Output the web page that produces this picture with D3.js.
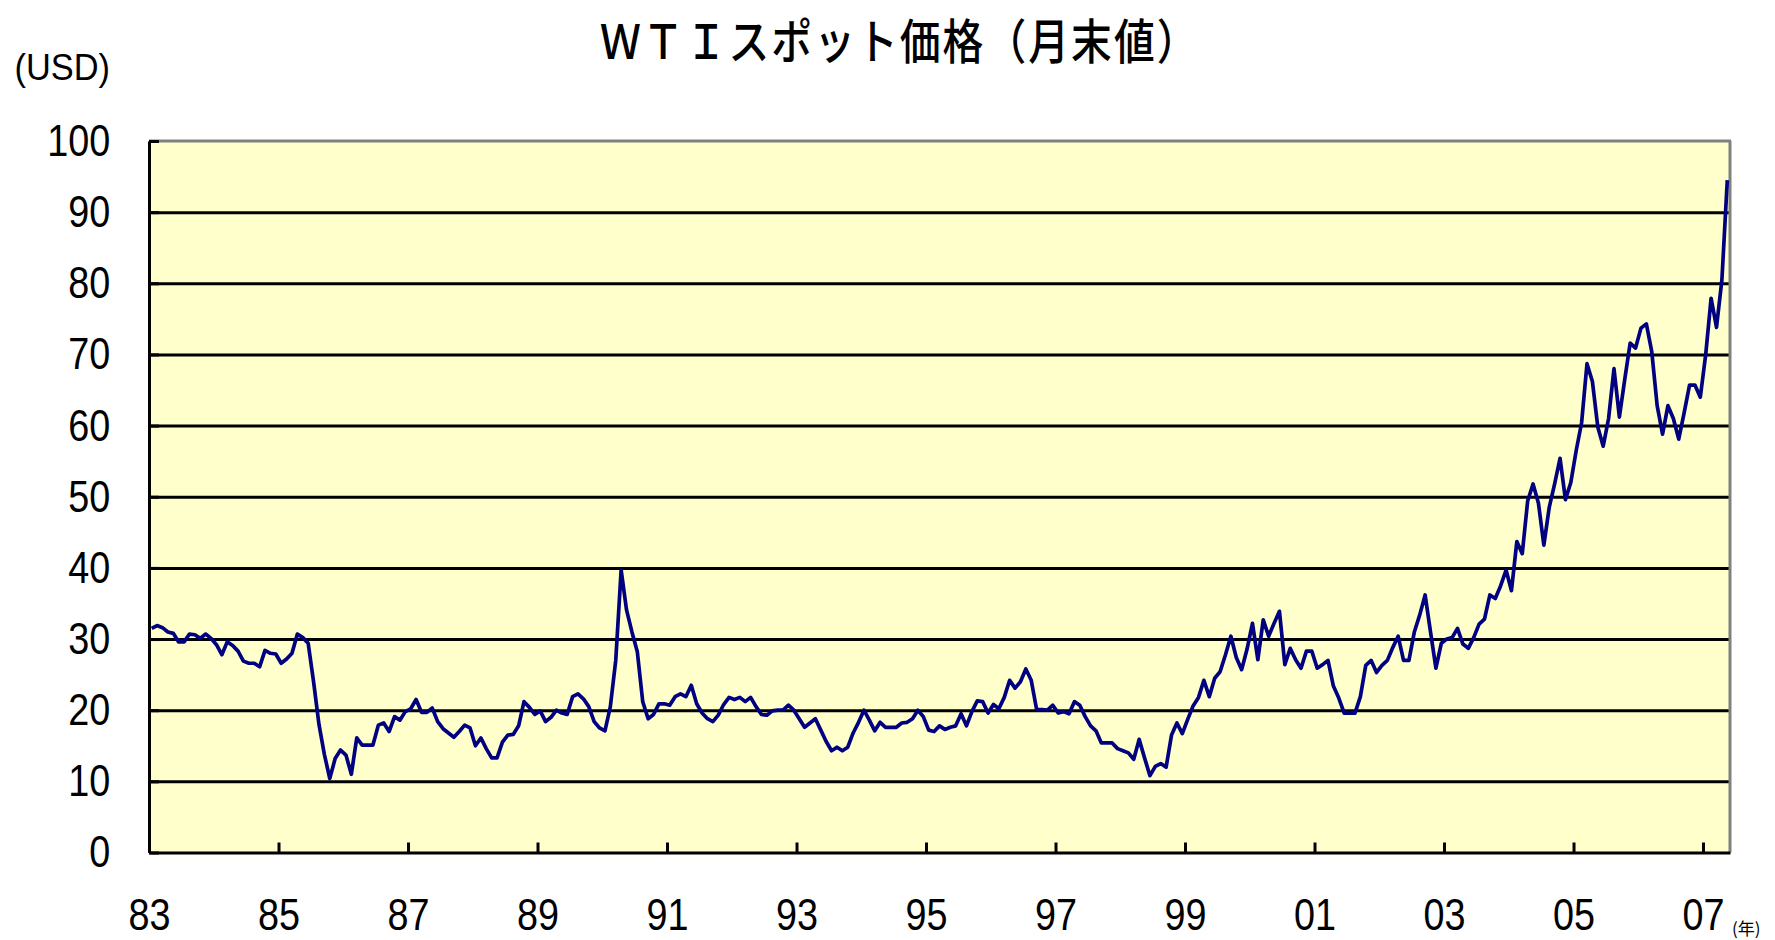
<!DOCTYPE html>
<html><head><meta charset="utf-8">
<script src="https://cdn.jsdelivr.net/npm/d3@7"></script>
<style>html,body{margin:0;padding:0;background:#fff;} svg{display:block;}</style>
</head><body><svg id="c" width="1775" height="940"></svg>
<script>
// WTI spot, month-end (USD), Jun 1983 .. Oct 2007
const y1983 = [31.5, 31.9, 31.6, 31.0, 30.8, 29.6, 29.6];
const y1984 = [30.7, 30.6, 30.1, 30.7, 30.1, 29.2, 27.8, 29.6, 29.1, 28.3, 26.9, 26.6];
const y1985 = [26.6, 26.1, 28.4, 28.0, 27.9, 26.6, 27.2, 28.0, 30.7, 30.2, 29.4, 24.0];
const y1986 = [18.0, 13.8, 10.4, 13.2, 14.4, 13.7, 11.0, 16.1, 15.1, 15.1, 15.1, 17.9];
const y1987 = [18.2, 17.0, 19.1, 18.6, 19.8, 20.2, 21.5, 19.7, 19.7, 20.3, 18.4, 17.4];
const y1988 = [16.8, 16.2, 17.0, 17.9, 17.5, 15.0, 16.1, 14.6, 13.3, 13.3, 15.5, 16.5];
const y1989 = [16.6, 17.8, 21.2, 20.4, 19.4, 19.9, 18.4, 19.0, 20.0, 19.6, 19.4, 21.9];
const y1990 = [22.3, 21.6, 20.5, 18.4, 17.5, 17.1, 20.5, 27.0, 39.7, 34.1, 31.0, 28.2];
const y1991 = [21.2, 18.8, 19.4, 20.9, 20.9, 20.7, 21.9, 22.3, 21.9, 23.5, 20.9, 19.6];
const y1992 = [18.8, 18.4, 19.3, 20.8, 21.8, 21.5, 21.8, 21.2, 21.8, 20.5, 19.4, 19.3];
const y1993 = [19.9, 20.0, 20.0, 20.7, 20.0, 18.8, 17.6, 18.2, 18.8, 17.2, 15.6, 14.3];
const y1994 = [14.8, 14.3, 14.8, 16.8, 18.3, 20.0, 18.6, 17.1, 18.3, 17.6, 17.6, 17.6];
const y1995 = [18.2, 18.3, 18.8, 20.0, 19.1, 17.2, 17.0, 17.8, 17.3, 17.6, 17.8, 19.5];
const y1996 = [17.8, 19.8, 21.3, 21.2, 19.6, 20.8, 20.2, 21.8, 24.2, 23.1, 24.0, 25.8];
const y1997 = [24.2, 20.1, 20.1, 20.0, 20.7, 19.6, 19.8, 19.5, 21.2, 20.7, 19.1, 17.8];
const y1998 = [17.1, 15.4, 15.4, 15.4, 14.6, 14.3, 14.0, 13.1, 15.9, 13.3, 10.8, 12.1];
const y1999 = [12.5, 12.0, 16.5, 18.2, 16.7, 18.7, 20.6, 21.8, 24.2, 21.9, 24.5, 25.4];
const y2000 = [27.8, 30.4, 27.4, 25.7, 28.6, 32.2, 27.1, 32.7, 30.4, 32.2, 33.9, 26.4];
const y2001 = [28.7, 27.1, 25.9, 28.3, 28.3, 25.9, 26.4, 27.0, 23.4, 21.7, 19.6, 19.6];
const y2002 = [19.6, 21.9, 26.3, 27.0, 25.3, 26.3, 27.0, 28.8, 30.4, 27.0, 27.0, 31.0];
const y2003 = [33.4, 36.2, 31.0, 25.9, 29.4, 30.0, 30.2, 31.5, 29.3, 28.7, 30.2, 32.1];
const y2004 = [32.8, 36.2, 35.7, 37.5, 39.7, 36.8, 43.7, 42.0, 49.4, 51.8, 49.1, 43.2];
const y2005 = [48.5, 51.8, 55.4, 49.6, 52.0, 56.5, 60.4, 68.7, 66.2, 59.8, 57.1, 61.0];
const y2006 = [68.0, 61.2, 66.5, 71.6, 70.9, 73.7, 74.3, 70.4, 62.8, 58.8, 62.8, 61.0];
const y2007 = [58.1, 61.8, 65.7, 65.7, 64.0, 70.0, 77.9, 73.8, 80.5, 94.5];

const xTickLabels = ["83","85","87","89","91","93","95","97","99","01","03","05","07"];
const yTicks = [0,10,20,30,40,50,60,70,80,90,100];
const titleText = "ＷＴＩスポット価格（月末値）";
const yUnitText = "(USD)";
const xUnitText = "(年)";

const prices = [].concat(y1983,y1984,y1985,y1986,y1987,y1988,y1989,y1990,y1991,y1992,
  y1993,y1994,y1995,y1996,y1997,y1998,y1999,y2000,y2001,y2002,y2003,y2004,y2005,y2006,y2007);

const svg = d3.select("#c");
const L = 149, R = 1730, T = 141, B = 852.5;
const x = d3.scaleLinear().domain([0, prices.length]).range([L, R]);
const y = d3.scaleLinear().domain([0, 100]).range([B, T]);
const numFont = "'Liberation Sans', Arial, sans-serif";
const cjkFont = "'Noto Sans CJK JP', sans-serif";

// plot background
svg.append("rect").attr("x", L).attr("y", T).attr("width", R - L).attr("height", B - T).attr("fill", "#FFFFCC");

// gridlines
const grid = svg.append("g").attr("transform", `translate(${L},0)`)
  .call(d3.axisLeft(y).tickValues(yTicks.filter(v => v > 0 && v < 100)).tickSize(-(R - L)).tickFormat(""));
grid.select(".domain").remove();
grid.selectAll("line").attr("stroke", "#000").attr("stroke-width", 3);

// top & right border (grey)
svg.append("line").attr("x1", L).attr("x2", R + 1).attr("y1", y(100)).attr("y2", y(100)).attr("stroke", "#808080").attr("stroke-width", 3);
svg.append("line").attr("x1", R).attr("x2", R).attr("y1", y(100)).attr("y2", B).attr("stroke", "#808080").attr("stroke-width", 3);

// series line
svg.append("path").datum(prices)
  .attr("fill", "none").attr("stroke", "#000080").attr("stroke-width", 3.7)
  .attr("stroke-linejoin", "round")
  .attr("d", d3.line().x((d, i) => x(i + 0.5)).y(d => y(d)));

// left axis
const ya = svg.append("g").attr("transform", `translate(${L},0)`)
  .call(d3.axisLeft(y).tickValues(yTicks).tickSizeInner(-10).tickSizeOuter(0).tickPadding(46));
ya.select(".domain").attr("stroke", "#000").attr("stroke-width", 3);
ya.selectAll("line").attr("stroke", "#000").attr("stroke-width", 3);
ya.selectAll("text").attr("font-family", numFont).attr("font-size", 45).attr("fill", "#000")
  .attr("transform", "scale(0.84,1)");

// bottom axis
const xa = svg.append("g").attr("transform", `translate(0,${B})`)
  .call(d3.axisBottom(x).tickValues(d3.range(0, 289, 24)).tickFormat((d, i) => xTickLabels[i])
    .tickSizeInner(-10).tickSizeOuter(0).tickPadding(46));
xa.select(".domain").attr("stroke", "#000").attr("stroke-width", 3);
xa.selectAll("line").attr("stroke", "#000").attr("stroke-width", 3);
xa.selectAll("text").attr("font-family", numFont).attr("font-size", 45).attr("fill", "#000")
  .attr("transform", "scale(0.84,1)");

// title
svg.append("text").attr("transform", "translate(600,38) scale(0.85,1)")
  .attr("dominant-baseline", "central").attr("letter-spacing", 2.4)
  .attr("font-family", cjkFont).attr("font-weight", 500).attr("font-size", 48).attr("fill", "#000")
  .text(titleText);

// unit labels
svg.append("text").attr("transform", "translate(110,80) scale(0.93,1)").attr("text-anchor", "end")
  .attr("font-family", numFont).attr("font-size", 37).attr("fill", "#000").text(yUnitText);
svg.append("text").attr("x", 1732).attr("y", 935)
  .attr("font-family", cjkFont).attr("font-size", 17).attr("fill", "#000").text(xUnitText);
</script></body></html>
